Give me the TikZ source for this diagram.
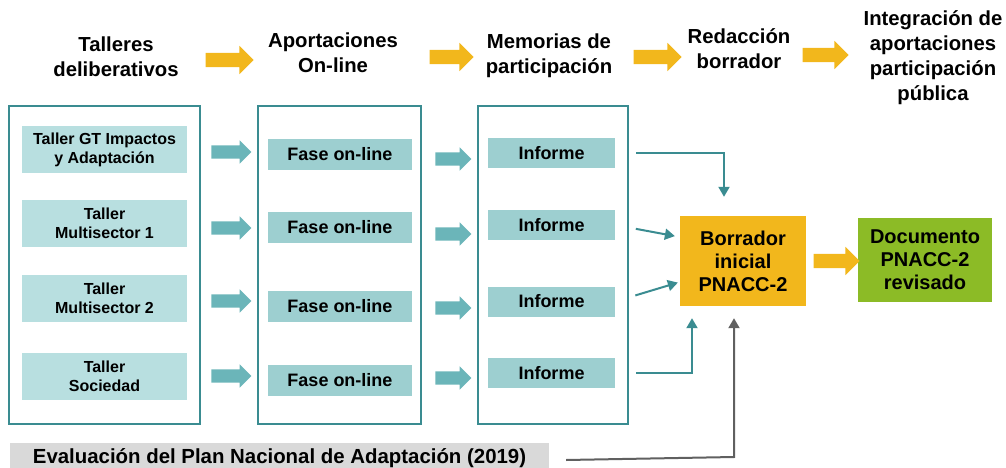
\documentclass[tikz,border=0pt]{standalone}
\usepackage{fontspec}
\setmainfont{Liberation Sans}
\usetikzlibrary{shapes,arrows,arrows.meta}
\definecolor{tealline}{HTML}{3A8C91}
\definecolor{lightteal}{HTML}{B8DFE0}
\definecolor{midteal}{HTML}{9DCFD0}
\definecolor{tealblock}{HTML}{6BB5B9}
\definecolor{yell}{HTML}{F2B71C}
\definecolor{leaf}{HTML}{8CBB26}
\definecolor{greybox}{HTML}{D9D9D9}
\definecolor{greyline}{HTML}{606060}
\tikzstyle{head} = [font=\fontsize{20.3}{25}\selectfont\bfseries, align=center, inner sep=0]
\tikzstyle{group} = [draw=tealline, line width=1.5pt, minimum height=318pt, inner sep=0]
\tikzstyle{taller} = [fill=lightteal, minimum width=165pt, minimum height=47pt, inner sep=0, align=center, font=\fontsize{16}{19}\selectfont\bfseries]
\tikzstyle{fase} = [fill=midteal, minimum width=144pt, minimum height=31pt, inner sep=0, font=\fontsize{18}{22}\selectfont\bfseries]
\tikzstyle{informe} = [fill=midteal, minimum width=127pt, minimum height=30pt, inner sep=0, font=\fontsize{18}{22}\selectfont\bfseries]
\tikzstyle{result} = [inner sep=0, align=center, font=\fontsize{20}{23}\selectfont\bfseries]
\tikzstyle{yarrow} = [single arrow, fill=yell, inner xsep=0, inner ysep=7pt, single arrow head extend=7pt]
\tikzstyle{tarrow} = [single arrow, fill=tealblock, inner xsep=0, inner ysep=6.5pt, single arrow head extend=5pt]
\tikzstyle{conn} = [draw=tealline, line width=2pt, -{Triangle[length=10pt,width=11pt]}]
\tikzstyle{gconn} = [draw=greyline, line width=2pt, -{Triangle[length=10pt,width=11pt]}]

\begin{document}
\begin{tikzpicture}[x=1pt, y=-1pt]

        \useasboundingbox (0,0) rectangle (1006,468);

        % Stage headings along the top
        \node[head] (h1) at (116,57) {Talleres\\deliberativos};
        \node[head] (h2) at (333,53) {Aportaciones\\On-line};
        \node[head] (h3) at (549,56) {Memorias de\\participación};
        \node[head] (h4) at (739,49) {Redacción\\borrador};
        \node[head] (h5) at (933,58) {Integración de\\aportaciones\\participación\\pública};

        % Yellow block arrows between headings
        \node[yarrow, minimum height=48pt] (ya1) at (226,60) {};
        \node[yarrow, minimum height=44pt] (ya2) at (448,57) {};
        \node[yarrow, minimum height=48pt] (ya3) at (654,57) {};
        \node[yarrow, minimum height=46pt] (ya4) at (822,55) {};

        % Group frames
        \node[group, minimum width=191pt] (g1) at (104.5,265) {};
        \node[group, minimum width=163pt] (g2) at (339.5,265) {};
        \node[group, minimum width=150pt] (g3) at (553,265) {};

        % Workshops
        \node[taller] (t1) at (104.5,149.5) {Taller GT Impactos\\y Adaptación};
        \node[taller] (t2) at (104.5,223) {Taller\\Multisector 1};
        \node[taller] (t3) at (104.5,298.5) {Taller\\Multisector 2};
        \node[taller] (t4) at (104.5,376.5) {Taller\\Sociedad};

        % On-line phases
        \node[fase] (f1) at (340,154.5) {Fase on-line};
        \node[fase] (f2) at (340,227.5) {Fase on-line};
        \node[fase] (f3) at (340,306.5) {Fase on-line};
        \node[fase] (f4) at (340,380) {Fase on-line};

        % Reports
        \node[informe] (r1) at (551.5,153) {Informe};
        \node[informe] (r2) at (551.5,225) {Informe};
        \node[informe] (r3) at (551.5,301.5) {Informe};
        \node[informe] (r4) at (551.5,373) {Informe};

        % Teal block arrows, workshops -> phases -> reports
        \node[tarrow, minimum height=40pt] (ta1) at (228,152) {};
        \node[tarrow, minimum height=40pt] (ta2) at (228,228) {};
        \node[tarrow, minimum height=40pt] (ta3) at (228,301) {};
        \node[tarrow, minimum height=40pt] (ta4) at (228,376) {};
        \node[tarrow, minimum height=36pt] (tb1) at (450,159) {};
        \node[tarrow, minimum height=36pt] (tb2) at (450,234) {};
        \node[tarrow, minimum height=36pt] (tb3) at (450,308) {};
        \node[tarrow, minimum height=36pt] (tb4) at (450,378) {};

        % Draft and revised document
        \node[result, fill=yell, minimum width=126pt, minimum height=90pt] (bor) at (743,261) {Borrador\\inicial\\PNACC-2};
        \node[result, fill=leaf, minimum width=134pt, minimum height=84pt] (doc) at (925,260) {Documento\\PNACC-2\\revisado};
        \node[yarrow, minimum height=46pt] (ya5) at (833,261) {};

        % Evaluation bar at the bottom
        \node[fill=greybox, minimum width=539pt, minimum height=30pt, inner sep=0, font=\fontsize{20.4}{24}\selectfont\bfseries] (ev) at (279.5,458) {Evaluación del Plan Nacional de Adaptación (2019)};
        \coordinate (gc) at (734,457);

        % Reports feeding the draft
        \draw[conn, shorten <=21pt, shorten >=19pt] (r1.east) -| ([xshift=-19pt]bor.north);
        \draw[conn, shorten <=21pt, shorten >=5pt] (r2.east) -- ([yshift=24pt]bor.west);
        \draw[conn, shorten <=21pt, shorten >=2pt] (r3.east) -- ([yshift=-21pt]bor.west);
        \draw[conn, shorten <=21pt, shorten >=12pt] (r4.east) -| ([xshift=-51pt]bor.south);

        % Evaluation feeding the draft
        \draw[gconn, shorten >=12pt] ([xshift=17pt,yshift=-2pt]ev.east) -- (gc) -- (gc |- bor.south);

\end{tikzpicture}
\end{document}
